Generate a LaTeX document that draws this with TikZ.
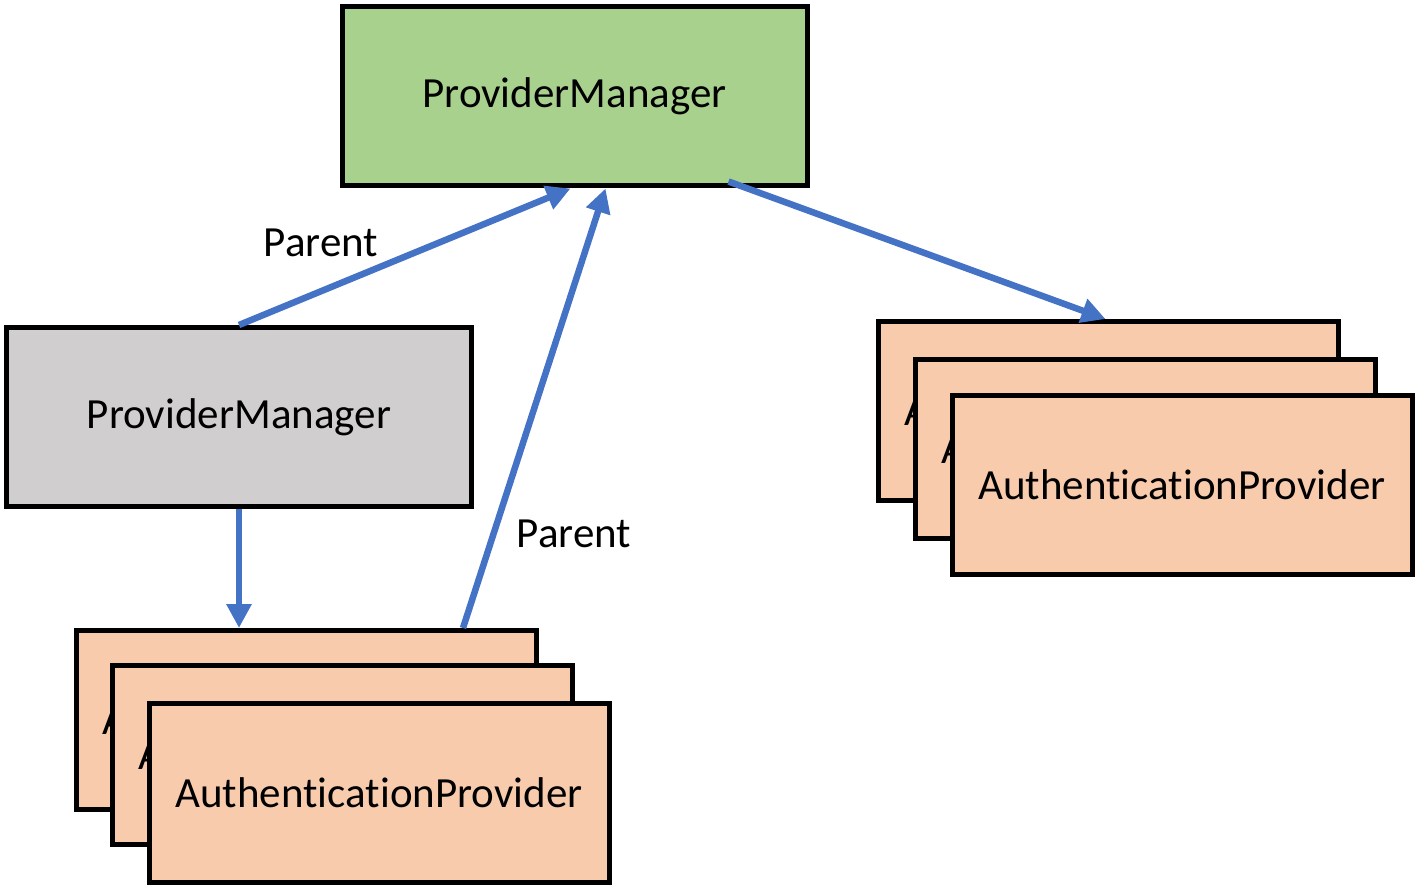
\documentclass[tikz,border=0pt]{standalone}
\usepackage{fontspec}
\setmainfont[Ligatures={NoCommon}]{Carlito}
\usetikzlibrary{arrows.meta}
\definecolor{pmgreen}{HTML}{A9D18E}
\definecolor{pmgray}{HTML}{D0CECE}
\definecolor{apfill}{HTML}{F8CBAD}
\definecolor{arrblue}{HTML}{4472C4}
\tikzset{
  box/.style={draw=black, line width=5pt, inner sep=0pt, font=\fontsize{43}{48}\selectfont,
    minimum width=#1},
  pmbox/.style={box=465pt, minimum height=179pt},
  apbox/.style={box=460pt, minimum height=179pt, fill=apfill},
  conn/.style={draw=arrblue, line width=6.5pt, -{Triangle[length=24pt,width=24pt]}},
  lbl/.style={font=\fontsize{43}{48}\selectfont, inner sep=0pt}
}
\begin{document}
\begin{tikzpicture}[x=1pt,y=-1pt]
\useasboundingbox (0,0) rectangle (1418,890);
\fill[white] (0,0) rectangle (1418,890);
% top provider manager
\node[pmbox, fill=pmgreen] (top) at (574.5,96.5) {ProviderManager};
% parent provider manager (gray)
\node[pmbox, fill=pmgray] (gray) at (239,417) {ProviderManager};
% bottom-left stack
\node[apbox] (bl1) at (306,720) {AuthenticationProvider};
\node[apbox] (bl2) at (342,755) {AuthenticationProvider};
\node[apbox] (bl3) at (379,793) {AuthenticationProvider};
% right stack
\node[apbox] (r1) at (1108.5,411) {AuthenticationProvider};
\node[apbox] (r2) at (1145,449) {AuthenticationProvider};
\node[apbox] (r3) at (1182,484.5) {AuthenticationProvider};
% connectors
\draw[conn] (gray.north) -- ([xshift=-4pt]top.south);
\draw[conn] ([xshift=157pt]bl1.north) -- ([xshift=31pt]top.south);
\draw[conn] ([xshift=154pt,yshift=7pt]top.south) -- ([xshift=-3pt]r1.north);
\draw[conn] (gray.south) -- (gray.south |- bl1.north);
% labels
\node[lbl] (p1) at (321,243) {Parent};
\node[lbl] (p2) at (574,534) {Parent};
\end{tikzpicture}
\end{document}
